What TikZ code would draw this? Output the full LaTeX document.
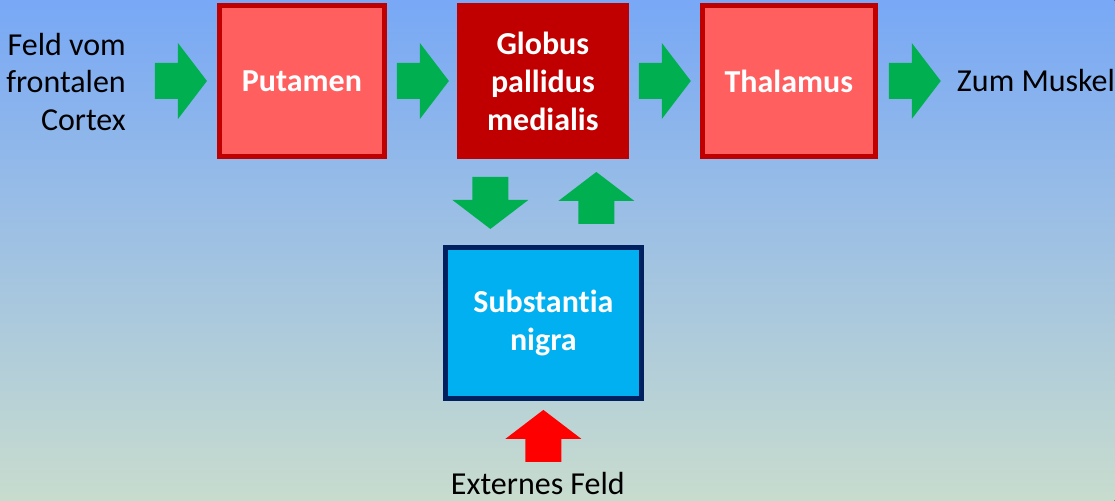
\documentclass[tikz,border=0pt]{standalone}
\usepackage{fontspec}
\setmainfont[Ligatures=NoCommon]{Carlito}
\usetikzlibrary{positioning}

\definecolor{boxred}{RGB}{192,0,0}
\definecolor{lightred}{RGB}{255,95,95}
\definecolor{arrowgreen}{RGB}{0,176,80}
\definecolor{nigrablue}{RGB}{0,176,240}
\definecolor{nigraborder}{RGB}{0,32,96}
\definecolor{skytop}{RGB}{120,168,246}
\definecolor{skybottom}{RGB}{200,220,206}

\tikzset{
  area/.style={draw=boxred, line width=5pt, fill=lightred, text=white,
    font=\fontsize{32}{38}\selectfont\bfseries, align=center, inner sep=0pt,
    minimum width=165pt, minimum height=151pt},
  plaintext/.style={font=\fontsize{32}{37.5}\selectfont, inner sep=0pt},
  fatarrow/.pic={
    \path[pic actions] (0,-18) -- (23,-18) -- (23,-38) -- (52,0)
      -- (23,38) -- (23,18) -- (0,18) -- cycle;
  }
}

\begin{document}
\begin{tikzpicture}[x=1pt, y=-1pt]
  % background
  \fill[top color=skytop, bottom color=skybottom] (0,0) rectangle (1115,501);

  % areas
  \node[area] (putamen) at (302,81) {Putamen};
  \node[area, fill=boxred, minimum width=167pt] (globus) at (543,81) {Globus\\pallidus\\medialis};
  \node[area, minimum width=173pt] (thalamus) at (789,81) {Thalamus};
  \node[area, draw=nigraborder, fill=nigrablue, minimum width=196pt] (nigra) at (543.5,323) {Substantia\\nigra};

  % texts
  \node[plaintext, anchor=east, align=right] (cortex) at (126,82) {Feld vom\\frontalen\\Cortex};
  \node[plaintext, anchor=west] (muskel) at (957,81) {Zum Muskel};
  \node[plaintext, anchor=base] (extern) at (538,495) {Externes Feld};

  % arrows
  \pic[fill=arrowgreen] at (155,81) {fatarrow};
  \pic[fill=arrowgreen] at (397,81) {fatarrow};
  \pic[fill=arrowgreen] at (639,81) {fatarrow};
  \pic[fill=arrowgreen] at (889,81) {fatarrow};
  \pic[fill=arrowgreen, rotate=-90] at (490.5,177) {fatarrow};
  \pic[fill=arrowgreen, rotate=90] at (596.5,224) {fatarrow};
  \pic[fill=red, rotate=90] at (543.5,462) {fatarrow};
\end{tikzpicture}
\end{document}
